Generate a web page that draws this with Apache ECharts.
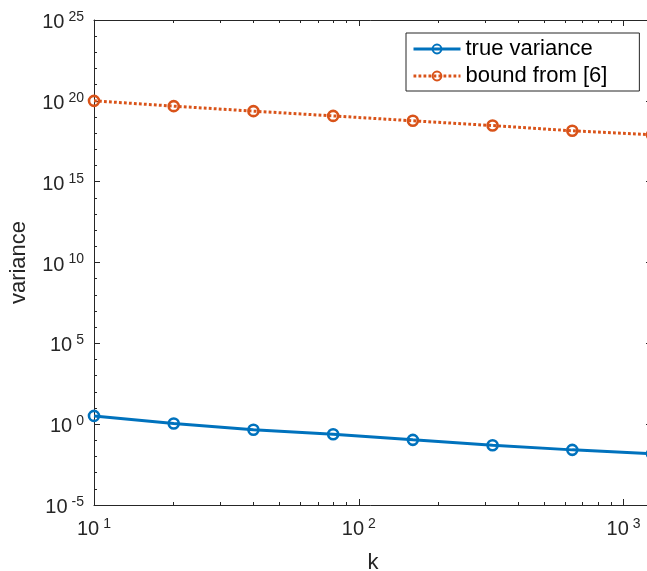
<!DOCTYPE html>
<html>
<head>
<meta charset="utf-8">
<script src="https://cdn.jsdelivr.net/npm/echarts@6/dist/echarts.min.js"></script>
<style>
html,body{margin:0;padding:0;background:#fff;}
#chart{width:647px;height:571px;}
</style>
</head>
<body>
<div id="chart"></div>
<script>
// ---- data ----
const kValues = [10, 20, 40, 80, 160, 320, 640, 1280];
const trueVariance = [3.24, 1.10, 0.447, 0.240, 0.107, 0.050, 0.0257, 0.0148];
const boundFrom6 = [1.0e20, 4.7e19, 2.3e19, 1.17e19, 5.8e18, 2.95e18, 1.4e18, 7.9e17];
const seriesNames = ['true variance', 'bound from [6]'];
const xMajorTicks = [10, 100, 1000];
const xMinorTicks = [20, 30, 40, 50, 60, 70, 80, 90, 200, 300, 400, 500, 600, 700, 800, 900];
const yMajorTicks = [1e-5, 1e0, 1e5, 1e10, 1e15, 1e20, 1e25];
const yMinorTicks = [1e-5, 1e-4, 1e-3, 1e-2, 1e-1, 1e0, 1e1, 1e2, 1e3, 1e4, 1e5, 1e6, 1e7, 1e8, 1e9, 1e10,
  1e11, 1e12, 1e13, 1e14, 1e15, 1e16, 1e17, 1e18, 1e19, 1e20, 1e21, 1e22, 1e23, 1e24, 1e25];

const FONT = 'Liberation Sans';
const AXIS_COLOR = '#262626';
const BLUE = '#0072BD';
const ORANGE = '#D95319';

function powLabel(v) {
  const e = Math.round(Math.log10(v));
  return '{b|10}{s|' + e + '}';
}
const rich = {
  b: { fontSize: 20, lineHeight: 20, fontFamily: FONT, color: AXIS_COLOR, padding: [5, 0, 0, 0] },
  s: { fontSize: 14, lineHeight: 14, fontFamily: FONT, color: AXIS_COLOR, verticalAlign: 'top', padding: [0, 0, 0, 4] }
};

const X_MIN = 10, X_MAX = 1280, Y_MIN = 1e-5, Y_MAX = 1e25;

function xAxisDef(pos, major, showLine, showLabel) {
  return {
    type: 'log', logBase: 10, min: X_MIN, max: X_MAX, position: pos, offset: 0,
    name: (pos === 'bottom' && showLabel) ? 'k' : '',
    nameLocation: 'middle', nameGap: 47,
    nameTextStyle: { fontSize: 22, fontFamily: FONT, color: AXIS_COLOR },
    axisLine: { show: showLine, onZero: false, lineStyle: { color: AXIS_COLOR, width: 1 } },
    axisTick: { show: true, inside: true, length: major ? 6 : 3, customValues: major ? xMajorTicks : xMinorTicks,
      lineStyle: { color: AXIS_COLOR, width: 1 } },
    axisLabel: { show: showLabel, customValues: xMajorTicks, margin: 12, formatter: powLabel, rich: rich },
    splitLine: { show: false }, minorTick: { show: false }
  };
}
function yAxisDef(pos, major, showLine, showLabel) {
  return {
    type: 'log', logBase: 10, min: Y_MIN, max: Y_MAX, position: pos, offset: 0,
    name: (pos === 'left' && showLabel) ? 'variance' : '',
    nameLocation: 'middle', nameGap: 64, nameRotate: 90,
    nameTextStyle: { fontSize: 22, fontFamily: FONT, color: AXIS_COLOR },
    axisLine: { show: showLine, onZero: false, lineStyle: { color: AXIS_COLOR, width: 1 } },
    axisTick: { show: true, inside: true, length: major ? 6 : 3, customValues: major ? yMajorTicks : yMinorTicks,
      lineStyle: { color: AXIS_COLOR, width: 1 } },
    axisLabel: { show: showLabel, customValues: yMajorTicks, margin: 10, formatter: powLabel, rich: rich },
    splitLine: { show: false }, minorTick: { show: false }
  };
}

const chart = echarts.init(document.getElementById('chart'), null, { renderer: 'canvas' });
chart.setOption({
  animation: false,
  backgroundColor: '#ffffff',
  textStyle: { fontFamily: FONT },
  grid: { left: 94, top: 20, width: 558, height: 485, containLabel: false, outerBoundsMode: 'none' },
  legend: {
    orient: 'vertical', left: 406, top: 33,
    padding: [5, 32, 4, 6], itemWidth: 47, itemHeight: 11, itemGap: 5,
    borderColor: AXIS_COLOR, borderWidth: 1, backgroundColor: '#ffffff',
    lineStyle: { width: 3 },
    textStyle: { fontSize: 22, fontFamily: FONT, color: '#000000' },
    data: seriesNames
  },
  xAxis: [
    xAxisDef('bottom', true, true, true),
    xAxisDef('bottom', false, false, false),
    xAxisDef('top', true, true, false),
    xAxisDef('top', false, false, false)
  ],
  yAxis: [
    yAxisDef('left', true, true, true),
    yAxisDef('left', false, false, false),
    yAxisDef('right', true, true, false),
    yAxisDef('right', false, false, false)
  ],
  series: [
    {
      name: seriesNames[0], type: 'line', xAxisIndex: 0, yAxisIndex: 0,
      data: kValues.map((k, i) => [k, trueVariance[i]]),
      symbol: 'circle', symbolSize: 10, showAllSymbol: true,
      lineStyle: { color: BLUE, width: 3, type: 'solid' },
      itemStyle: { color: 'rgba(255,255,255,0)', borderColor: BLUE, borderWidth: 2.6 },
      emphasis: { disabled: true }, clip: false
    },
    {
      name: seriesNames[1], type: 'line', xAxisIndex: 0, yAxisIndex: 0,
      data: kValues.map((k, i) => [k, boundFrom6[i]]),
      symbol: 'circle', symbolSize: 10, showAllSymbol: true,
      lineStyle: { color: ORANGE, width: 3, type: [2.8, 2.2] },
      itemStyle: { color: 'rgba(255,255,255,0)', borderColor: ORANGE, borderWidth: 2.6 },
      emphasis: { disabled: true }, clip: false
    }
  ]
});
</script>
</body>
</html>
